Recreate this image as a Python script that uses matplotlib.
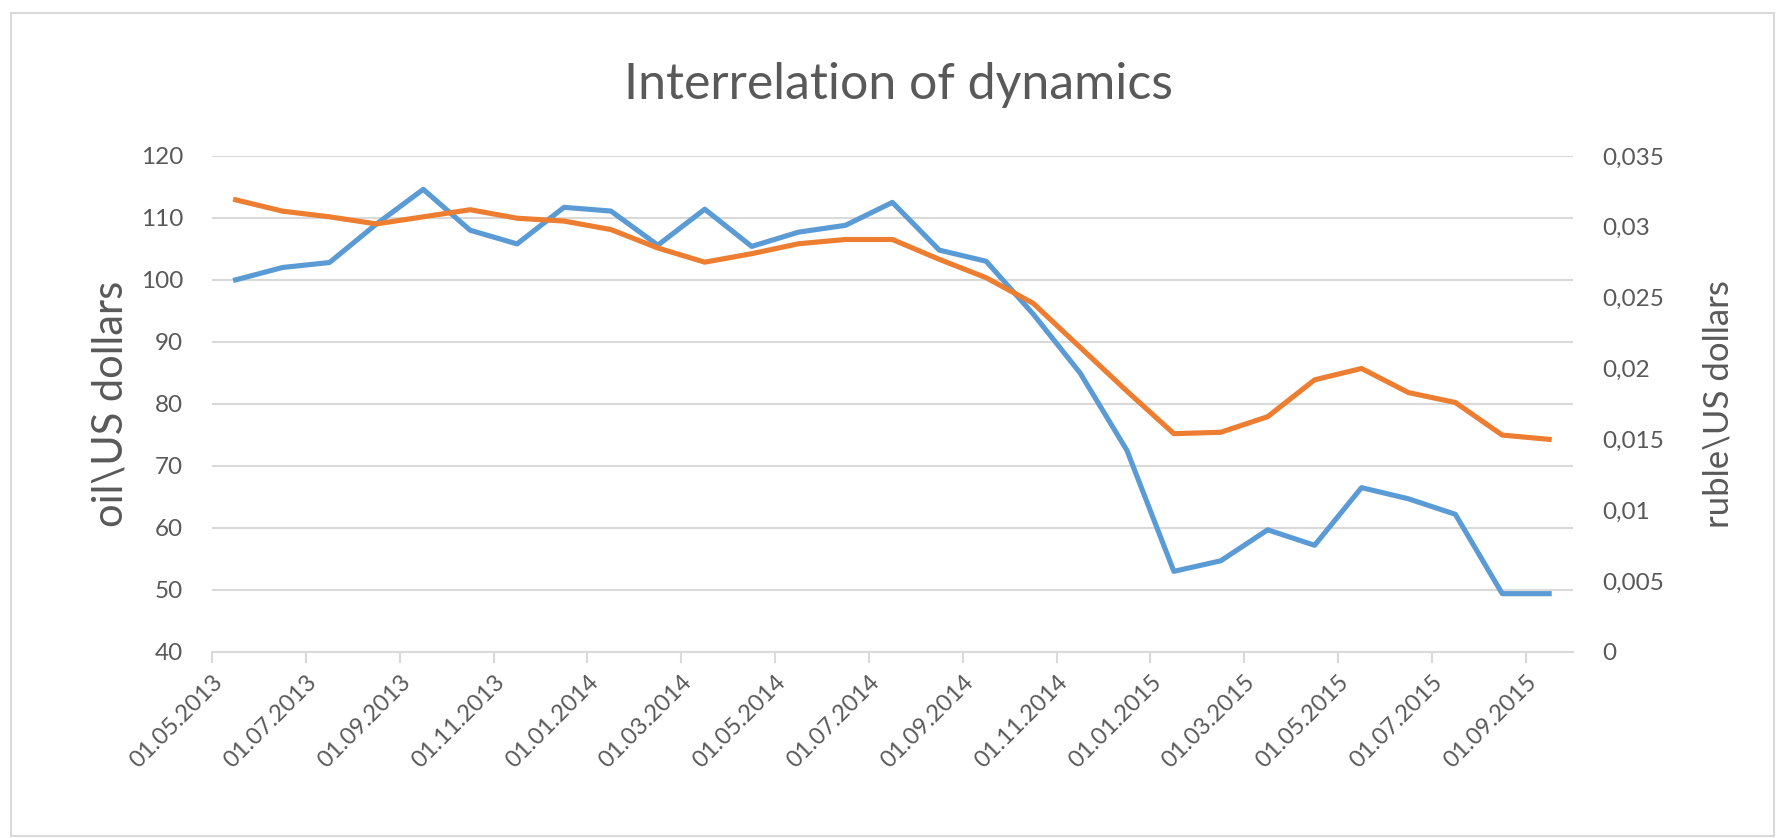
import numpy as np
import matplotlib.pyplot as plt
from matplotlib.patches import Rectangle

# monthly values, May 2013 .. Sep 2015
oil = [100.0, 102.0, 102.8, 109.0, 114.6, 108.0, 105.8, 111.7, 111.1, 105.6,
       111.4, 105.4, 107.7, 108.8, 112.5, 104.8, 103.0, 94.5, 85.0, 72.5,
       53.0, 54.7, 59.7, 57.2, 66.5, 64.7, 62.2, 49.4, 49.4]
ruble = [0.0319, 0.0311, 0.0307, 0.0302, 0.0307, 0.0312, 0.0306, 0.0304, 0.0298, 0.0285,
         0.0275, 0.0281, 0.0288, 0.0291, 0.0291, 0.0277, 0.0264, 0.0246, 0.0215, 0.0184,
         0.0154, 0.0155, 0.0166, 0.0192, 0.0200, 0.0183, 0.0176, 0.0153, 0.0150]
date_labels = ["01.05.2013", "01.07.2013", "01.09.2013", "01.11.2013", "01.01.2014",
               "01.03.2014", "01.05.2014", "01.07.2014", "01.09.2014", "01.11.2014",
               "01.01.2015", "01.03.2015", "01.05.2015", "01.07.2015", "01.09.2015"]
left_ticks = [40, 50, 60, 70, 80, 90, 100, 110, 120]
right_ticks = [0, 0.005, 0.01, 0.015, 0.02, 0.025, 0.03, 0.035]

plt.rcParams['font.family'] = ['Lato', 'DejaVu Sans']
grey = '#595959'
gridc = '#D9D9D9'

fig = plt.figure(figsize=(17.83, 8.38), dpi=100)
ax = fig.add_axes([0.119, 0.222, 0.763, 0.592])
ax2 = ax.twinx()

n = len(oil)
x = np.arange(n) + 0.5
ax.plot(x, oil, color='#5B9BD5', lw=3.7, solid_joinstyle='round')
ax2.plot(x, ruble, color='#ED7D31', lw=3.7, solid_joinstyle='round')

ax.set_xlim(0, n)
ax.set_ylim(40, 120)
ax2.set_ylim(0, 0.035)
ax.set_yticks(left_ticks)
ax.set_yticklabels([str(v) for v in left_ticks])
ax2.set_yticks(right_ticks)
ax2.set_yticklabels([('%g' % v).replace('.', ',') for v in right_ticks])
ax.set_xticks(np.arange(0, n, 2))
ax.set_xticklabels(date_labels, rotation=45, ha='right', va='top',
                   rotation_mode='anchor')

ax.grid(axis='y', color=gridc, lw=1.5)
ax.set_axisbelow(True)
for a in (ax, ax2):
    for s in a.spines.values():
        s.set_visible(False)
ax.spines['bottom'].set_visible(True)
ax.spines['bottom'].set_color(gridc)
ax.spines['bottom'].set_linewidth(1.5)

ax.tick_params(axis='y', length=0, pad=21, labelsize=17.5, labelcolor=grey)
ax2.tick_params(axis='y', length=0, pad=21, labelsize=17.5, labelcolor=grey)
ax.tick_params(axis='x', length=8, width=1.5, color=gridc, pad=6,
               labelsize=17, labelcolor=grey)

ax.set_ylabel('oil\\US dollars', fontsize=30, color=grey, labelpad=8)
ax2.set_ylabel('ruble\\US dollars', fontsize=25, color=grey, rotation=90,
               labelpad=28)
fig.text(0.504, 0.899, 'Interrelation of dynamics', fontsize=36, color=grey,
         ha='center', va='center')

fig.patches.append(Rectangle((0.006, 0.002), 0.989, 0.982, transform=fig.transFigure,
                             fill=False, edgecolor=gridc, lw=1.5))

fig.savefig('out.png', dpi=100)
